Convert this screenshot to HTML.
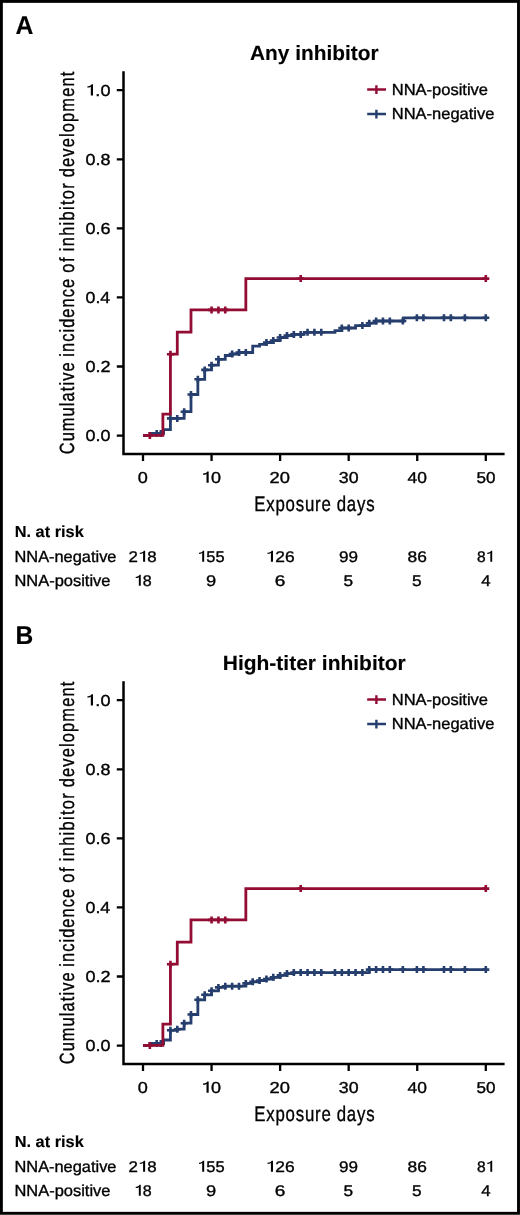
<!DOCTYPE html>
<html><head><meta charset="utf-8"><style>
html,body{margin:0;padding:0;background:#fff;}
svg{display:block;will-change:transform;}
text{font-family:"Liberation Sans",sans-serif;fill:#000;stroke:#000;stroke-width:0.35px;text-rendering:geometricPrecision;}
.ax{stroke:#000;stroke-width:2.5;fill:none;}
.tick{stroke:#000;stroke-width:2.3;fill:none;}
</style></head><body>
<svg width="520" height="1215" viewBox="0 0 520 1215">
<rect x="0" y="0" width="520" height="1215" fill="#fff"/>
<rect x="1.4" y="1.4" width="517.1" height="1211.9" fill="none" stroke="#000" stroke-width="2.9"/>
<text x="15.48" y="33.80" style="font-size:25.8px;font-weight:bold;stroke-width:0.12px;" textLength="17.89" lengthAdjust="spacingAndGlyphs">A</text>
<text x="249.98" y="59.60" style="font-size:20.7px;font-weight:bold;stroke-width:0.12px;" textLength="128.56" lengthAdjust="spacingAndGlyphs">Any inhibitor</text>
<path d="M123.5,71.2 V455.3 M122.3,454.1 H504.6" class="ax"/>
<text x="85.48" y="441.00" style="font-size:16px;" textLength="24.94" lengthAdjust="spacingAndGlyphs">0.0</text>
<text x="85.48" y="371.92" style="font-size:16px;" textLength="25.13" lengthAdjust="spacingAndGlyphs">0.2</text>
<text x="85.49" y="302.84" style="font-size:16px;" textLength="24.75" lengthAdjust="spacingAndGlyphs">0.4</text>
<text x="85.48" y="233.76" style="font-size:16px;" textLength="25.03" lengthAdjust="spacingAndGlyphs">0.6</text>
<text x="85.48" y="164.68" style="font-size:16px;" textLength="24.94" lengthAdjust="spacingAndGlyphs">0.8</text>
<path transform="translate(85.31,95.60) scale(18.065,-16.000)" d="M0.305,0 H0.425 V0.705 H0.345 C0.325,0.640 0.280,0.585 0.110,0.575 V0.500 C0.200,0.500 0.265,0.520 0.305,0.555 Z" fill="#000"/><text x="95.36" y="95.60" style="font-size:16px;" textLength="15.07" lengthAdjust="spacingAndGlyphs">.0</text>
<text x="137.68" y="482.70" style="font-size:15.8px;" textLength="10.07" lengthAdjust="spacingAndGlyphs">0</text>
<path transform="translate(201.02,482.70) scale(18.021,-15.800)" d="M0.305,0 H0.425 V0.705 H0.345 C0.325,0.640 0.280,0.585 0.110,0.575 V0.500 C0.200,0.500 0.265,0.520 0.305,0.555 Z" fill="#000"/><text x="211.04" y="482.70" style="font-size:15.8px;" textLength="10.02" lengthAdjust="spacingAndGlyphs">0</text>
<text x="269.58" y="482.70" style="font-size:15.8px;" textLength="20.39" lengthAdjust="spacingAndGlyphs">20</text>
<text x="338.79" y="482.70" style="font-size:15.8px;" textLength="19.76" lengthAdjust="spacingAndGlyphs">30</text>
<text x="407.56" y="482.70" style="font-size:15.8px;" textLength="19.37" lengthAdjust="spacingAndGlyphs">40</text>
<text x="476.52" y="482.70" style="font-size:15.8px;" textLength="19.01" lengthAdjust="spacingAndGlyphs">50</text>
<path d=" M116.8,435.60 H123.5 M116.8,366.52 H123.5 M116.8,297.44 H123.5 M116.8,228.36 H123.5 M116.8,159.28 H123.5 M116.8,90.20 H123.5 M143.00,454.0 V461.0 M211.56,454.0 V461.0 M280.12,454.0 V461.0 M348.68,454.0 V461.0 M417.24,454.0 V461.0 M485.80,454.0 V461.0" class="tick"/>
<text transform="translate(254.26,511.30) scale(0.8,1)" x="0" y="0" style="font-size:21px" textLength="95.62" lengthAdjust="spacing">Exposure</text>
<text transform="translate(336.63,511.30) scale(0.8,1)" x="0" y="0" style="font-size:21px" textLength="47.50" lengthAdjust="spacing">days</text>
<text transform="translate(74.30,454.32) rotate(-90) scale(0.8,1)" x="0" y="0" style="font-size:20.5px" textLength="114.99" lengthAdjust="spacing">Cumulative</text>
<text transform="translate(74.30,356.67) rotate(-90) scale(0.8,1)" x="0" y="0" style="font-size:20.5px" textLength="97.13" lengthAdjust="spacing">incidence</text>
<text transform="translate(74.30,272.86) rotate(-90) scale(0.8,1)" x="0" y="0" style="font-size:20.5px" textLength="19.42" lengthAdjust="spacing">of</text>
<text transform="translate(74.30,251.17) rotate(-90) scale(0.8,1)" x="0" y="0" style="font-size:20.5px" textLength="84.81" lengthAdjust="spacing">inhibitor</text>
<text transform="translate(74.30,177.26) rotate(-90) scale(0.8,1)" x="0" y="0" style="font-size:20.5px" textLength="131.95" lengthAdjust="spacing">development</text>
<path d="M367.2,89.50 H386 M376.4,85.20 V94.10" stroke="#920c33" stroke-width="2.4" fill="none"/>
<text x="391.78" y="94.60" style="font-size:16px;" textLength="96.26" lengthAdjust="spacingAndGlyphs">NNA-positive</text>
<path d="M367.2,114.00 H386 M376.4,109.70 V118.60" stroke="#263e6d" stroke-width="2.4" fill="none"/>
<text x="391.78" y="119.10" style="font-size:16px;" textLength="102.67" lengthAdjust="spacingAndGlyphs">NNA-negative</text>
<path d="M143.00,435.60 H149.86 V433.40 H163.57 V429.70 H170.42 V418.40 H184.14 V411.70 H190.99 V394.50 H197.85 V379.30 H204.70 V369.90 H211.56 V365.20 H218.42 V359.30 H225.27 V355.50 H232.13 V354.00 H238.98 V352.50 H252.70 V346.20 H259.55 V344.40 H266.41 V342.50 H273.26 V340.50 H280.12 V337.50 H286.98 V335.60 H293.83 V334.40 H304.12 V332.30 H334.97 V330.60 H341.82 V328.00 H355.54 V325.60 H369.25 V323.20 H376.10 V321.00 H403.53 V317.80 H485.80" stroke="#263e6d" stroke-width="2.8" fill="none"/>
<path d=" M153.21,433.40 H160.21 M156.71,429.90 V436.90 M157.33,433.40 H164.33 M160.83,429.90 V436.90 M166.92,418.40 H173.92 M170.42,414.90 V421.90 M173.78,418.40 H180.78 M177.28,414.90 V421.90 M180.64,411.70 H187.64 M184.14,408.20 V415.20 M187.49,394.50 H194.49 M190.99,391.00 V398.00 M194.35,379.30 H201.35 M197.85,375.80 V382.80 M201.20,369.90 H208.20 M204.70,366.40 V373.40 M208.06,365.20 H215.06 M211.56,361.70 V368.70 M214.92,359.30 H221.92 M218.42,355.80 V362.80 M228.63,354.00 H235.63 M232.13,350.50 V357.50 M235.48,352.50 H242.48 M238.98,349.00 V356.00 M242.34,352.50 H249.34 M245.84,349.00 V356.00 M262.91,342.50 H269.91 M266.41,339.00 V346.00 M269.76,340.50 H276.76 M273.26,337.00 V344.00 M276.62,337.50 H283.62 M280.12,334.00 V341.00 M283.48,335.60 H290.48 M286.98,332.10 V339.10 M290.33,334.40 H297.33 M293.83,330.90 V337.90 M297.19,334.40 H304.19 M300.69,330.90 V337.90 M304.04,332.30 H311.04 M307.54,328.80 V335.80 M310.90,332.30 H317.90 M314.40,328.80 V335.80 M317.76,332.30 H324.76 M321.26,328.80 V335.80 M338.32,328.00 H345.32 M341.82,324.50 V331.50 M345.18,328.00 H352.18 M348.68,324.50 V331.50 M358.89,325.60 H365.89 M362.39,322.10 V329.10 M365.75,323.20 H372.75 M369.25,319.70 V326.70 M372.60,321.00 H379.60 M376.10,317.50 V324.50 M379.46,321.00 H386.46 M382.96,317.50 V324.50 M386.32,321.00 H393.32 M389.82,317.50 V324.50 M399.34,321.00 H406.34 M402.84,317.50 V324.50 M413.40,317.80 H420.40 M416.90,314.30 V321.30 M419.91,317.80 H426.91 M423.41,314.30 V321.30 M440.48,317.80 H447.48 M443.98,314.30 V321.30 M447.33,317.80 H454.33 M450.83,314.30 V321.30 M461.39,317.80 H468.39 M464.89,314.30 V321.30 M482.30,317.80 H489.30 M485.80,314.30 V321.30" stroke="#263e6d" stroke-width="2.6" fill="none"/>
<path d="M143.00,435.40 H162.88 V414.20 H170.42 V354.20 H177.28 V332.20 H190.99 V309.90 H245.84 V278.60 H485.80" stroke="#920c33" stroke-width="2.8" fill="none"/>
<path d=" M146.36,435.40 H153.36 M149.86,431.90 V438.90 M166.92,354.20 H173.92 M170.42,350.70 V357.70 M208.06,309.90 H215.06 M211.56,306.40 V313.40 M214.92,309.90 H221.92 M218.42,306.40 V313.40 M221.77,309.90 H228.77 M225.27,306.40 V313.40 M297.19,278.60 H304.19 M300.69,275.10 V282.10 M482.30,278.60 H489.30 M485.80,275.10 V282.10" stroke="#920c33" stroke-width="2.6" fill="none"/>
<text x="14.74" y="536.60" style="font-size:16px;font-weight:bold;stroke-width:0.12px;" textLength="69.05" lengthAdjust="spacingAndGlyphs">N. at risk</text>
<text x="14.49" y="561.80" style="font-size:16px;" textLength="101.95" lengthAdjust="spacingAndGlyphs">NNA-negative</text>
<text x="14.48" y="585.90" style="font-size:16px;" textLength="95.96" lengthAdjust="spacingAndGlyphs">NNA-positive</text>
<text x="128.56" y="561.70" style="font-size:15.5px;" textLength="9.39" lengthAdjust="spacingAndGlyphs">2</text><path transform="translate(137.95,561.70) scale(16.889,-15.500)" d="M0.305,0 H0.425 V0.705 H0.345 C0.325,0.640 0.280,0.585 0.110,0.575 V0.500 C0.200,0.500 0.265,0.520 0.305,0.555 Z" fill="#000"/><text x="147.34" y="561.70" style="font-size:15.5px;" textLength="9.39" lengthAdjust="spacingAndGlyphs">8</text>
<path transform="translate(197.19,561.70) scale(16.436,-15.500)" d="M0.305,0 H0.425 V0.705 H0.345 C0.325,0.640 0.280,0.585 0.110,0.575 V0.500 C0.200,0.500 0.265,0.520 0.305,0.555 Z" fill="#000"/><text x="206.33" y="561.70" style="font-size:15.5px;" textLength="18.28" lengthAdjust="spacingAndGlyphs">55</text>
<path transform="translate(265.58,561.70) scale(17.417,-15.500)" d="M0.305,0 H0.425 V0.705 H0.345 C0.325,0.640 0.280,0.585 0.110,0.575 V0.500 C0.200,0.500 0.265,0.520 0.305,0.555 Z" fill="#000"/><text x="275.27" y="561.70" style="font-size:15.5px;" textLength="19.37" lengthAdjust="spacingAndGlyphs">26</text>
<text x="339.03" y="561.70" style="font-size:15.5px;" textLength="18.98" lengthAdjust="spacingAndGlyphs">99</text>
<text x="407.52" y="561.70" style="font-size:15.5px;" textLength="19.30" lengthAdjust="spacingAndGlyphs">86</text>
<text x="476.90" y="561.70" style="font-size:15.5px;" textLength="8.67" lengthAdjust="spacingAndGlyphs">8</text><path transform="translate(485.57,561.70) scale(15.596,-15.500)" d="M0.305,0 H0.425 V0.705 H0.345 C0.325,0.640 0.280,0.585 0.110,0.575 V0.500 C0.200,0.500 0.265,0.520 0.305,0.555 Z" fill="#000"/>
<path transform="translate(133.94,585.80) scale(16.042,-15.500)" d="M0.305,0 H0.425 V0.705 H0.345 C0.325,0.640 0.280,0.585 0.110,0.575 V0.500 C0.200,0.500 0.265,0.520 0.305,0.555 Z" fill="#000"/><text x="142.86" y="585.80" style="font-size:15.5px;" textLength="8.92" lengthAdjust="spacingAndGlyphs">8</text>
<text x="205.98" y="585.80" style="font-size:15.5px;" textLength="10.17" lengthAdjust="spacingAndGlyphs">9</text>
<text x="274.84" y="585.80" style="font-size:15.5px;" textLength="10.64" lengthAdjust="spacingAndGlyphs">6</text>
<text x="343.61" y="585.80" style="font-size:15.5px;" textLength="9.60" lengthAdjust="spacingAndGlyphs">5</text>
<text x="412.01" y="585.80" style="font-size:15.5px;" textLength="9.60" lengthAdjust="spacingAndGlyphs">5</text>
<text x="481.18" y="585.80" style="font-size:15.5px;" textLength="9.34" lengthAdjust="spacingAndGlyphs">4</text>
<text x="15.60" y="644.40" style="font-size:25.8px;font-weight:bold;stroke-width:0.12px;" textLength="17.76" lengthAdjust="spacingAndGlyphs">B</text>
<text x="222.74" y="669.60" style="font-size:20.7px;font-weight:bold;stroke-width:0.12px;" textLength="183.00" lengthAdjust="spacingAndGlyphs">High-titer inhibitor</text>
<path d="M123.5,681.2 V1065.3 M122.3,1064.1 H504.6" class="ax"/>
<text x="85.48" y="1051.00" style="font-size:16px;" textLength="24.94" lengthAdjust="spacingAndGlyphs">0.0</text>
<text x="85.48" y="981.92" style="font-size:16px;" textLength="25.13" lengthAdjust="spacingAndGlyphs">0.2</text>
<text x="85.49" y="912.84" style="font-size:16px;" textLength="24.75" lengthAdjust="spacingAndGlyphs">0.4</text>
<text x="85.48" y="843.76" style="font-size:16px;" textLength="25.03" lengthAdjust="spacingAndGlyphs">0.6</text>
<text x="85.48" y="774.68" style="font-size:16px;" textLength="24.94" lengthAdjust="spacingAndGlyphs">0.8</text>
<path transform="translate(85.31,705.60) scale(18.065,-16.000)" d="M0.305,0 H0.425 V0.705 H0.345 C0.325,0.640 0.280,0.585 0.110,0.575 V0.500 C0.200,0.500 0.265,0.520 0.305,0.555 Z" fill="#000"/><text x="95.36" y="705.60" style="font-size:16px;" textLength="15.07" lengthAdjust="spacingAndGlyphs">.0</text>
<text x="137.68" y="1092.70" style="font-size:15.8px;" textLength="10.07" lengthAdjust="spacingAndGlyphs">0</text>
<path transform="translate(201.02,1092.70) scale(18.021,-15.800)" d="M0.305,0 H0.425 V0.705 H0.345 C0.325,0.640 0.280,0.585 0.110,0.575 V0.500 C0.200,0.500 0.265,0.520 0.305,0.555 Z" fill="#000"/><text x="211.04" y="1092.70" style="font-size:15.8px;" textLength="10.02" lengthAdjust="spacingAndGlyphs">0</text>
<text x="269.58" y="1092.70" style="font-size:15.8px;" textLength="20.39" lengthAdjust="spacingAndGlyphs">20</text>
<text x="338.79" y="1092.70" style="font-size:15.8px;" textLength="19.76" lengthAdjust="spacingAndGlyphs">30</text>
<text x="407.56" y="1092.70" style="font-size:15.8px;" textLength="19.37" lengthAdjust="spacingAndGlyphs">40</text>
<text x="476.52" y="1092.70" style="font-size:15.8px;" textLength="19.01" lengthAdjust="spacingAndGlyphs">50</text>
<path d=" M116.8,1045.60 H123.5 M116.8,976.52 H123.5 M116.8,907.44 H123.5 M116.8,838.36 H123.5 M116.8,769.28 H123.5 M116.8,700.20 H123.5 M143.00,1064.0 V1071.0 M211.56,1064.0 V1071.0 M280.12,1064.0 V1071.0 M348.68,1064.0 V1071.0 M417.24,1064.0 V1071.0 M485.80,1064.0 V1071.0" class="tick"/>
<text transform="translate(254.26,1121.30) scale(0.8,1)" x="0" y="0" style="font-size:21px" textLength="95.62" lengthAdjust="spacing">Exposure</text>
<text transform="translate(336.63,1121.30) scale(0.8,1)" x="0" y="0" style="font-size:21px" textLength="47.50" lengthAdjust="spacing">days</text>
<text transform="translate(74.30,1064.32) rotate(-90) scale(0.8,1)" x="0" y="0" style="font-size:20.5px" textLength="114.99" lengthAdjust="spacing">Cumulative</text>
<text transform="translate(74.30,966.67) rotate(-90) scale(0.8,1)" x="0" y="0" style="font-size:20.5px" textLength="97.13" lengthAdjust="spacing">incidence</text>
<text transform="translate(74.30,882.86) rotate(-90) scale(0.8,1)" x="0" y="0" style="font-size:20.5px" textLength="19.42" lengthAdjust="spacing">of</text>
<text transform="translate(74.30,861.17) rotate(-90) scale(0.8,1)" x="0" y="0" style="font-size:20.5px" textLength="84.81" lengthAdjust="spacing">inhibitor</text>
<text transform="translate(74.30,787.26) rotate(-90) scale(0.8,1)" x="0" y="0" style="font-size:20.5px" textLength="131.95" lengthAdjust="spacing">development</text>
<path d="M367.2,699.50 H386 M376.4,695.20 V704.10" stroke="#920c33" stroke-width="2.4" fill="none"/>
<text x="391.78" y="704.60" style="font-size:16px;" textLength="96.26" lengthAdjust="spacingAndGlyphs">NNA-positive</text>
<path d="M367.2,724.00 H386 M376.4,719.70 V728.60" stroke="#263e6d" stroke-width="2.4" fill="none"/>
<text x="391.78" y="729.10" style="font-size:16px;" textLength="102.67" lengthAdjust="spacingAndGlyphs">NNA-negative</text>
<path d="M143.00,1045.60 H149.86 V1043.50 H163.57 V1040.00 H170.42 V1030.30 H177.28 V1029.20 H184.14 V1023.20 H190.99 V1014.50 H197.85 V999.80 H204.70 V994.80 H211.56 V990.80 H218.42 V987.40 H225.27 V986.20 H245.84 V983.40 H252.70 V981.80 H259.55 V980.50 H266.41 V979.00 H273.26 V977.30 H280.12 V975.40 H286.98 V973.60 H293.83 V972.60 H369.25 V969.60 H485.80" stroke="#263e6d" stroke-width="2.8" fill="none"/>
<path d=" M153.21,1043.50 H160.21 M156.71,1040.00 V1047.00 M157.33,1043.50 H164.33 M160.83,1040.00 V1047.00 M166.92,1030.30 H173.92 M170.42,1026.80 V1033.80 M173.78,1029.20 H180.78 M177.28,1025.70 V1032.70 M180.64,1023.20 H187.64 M184.14,1019.70 V1026.70 M187.49,1014.50 H194.49 M190.99,1011.00 V1018.00 M194.35,999.80 H201.35 M197.85,996.30 V1003.30 M201.20,994.80 H208.20 M204.70,991.30 V998.30 M208.06,990.80 H215.06 M211.56,987.30 V994.30 M214.92,987.40 H221.92 M218.42,983.90 V990.90 M221.77,986.20 H228.77 M225.27,982.70 V989.70 M228.63,986.20 H235.63 M232.13,982.70 V989.70 M235.48,986.20 H242.48 M238.98,982.70 V989.70 M242.34,983.40 H249.34 M245.84,979.90 V986.90 M249.20,981.80 H256.20 M252.70,978.30 V985.30 M256.05,980.50 H263.05 M259.55,977.00 V984.00 M262.91,979.00 H269.91 M266.41,975.50 V982.50 M269.76,977.30 H276.76 M273.26,973.80 V980.80 M276.62,975.40 H283.62 M280.12,971.90 V978.90 M283.48,973.60 H290.48 M286.98,970.10 V977.10 M290.33,972.60 H297.33 M293.83,969.10 V976.10 M297.19,972.60 H304.19 M300.69,969.10 V976.10 M304.04,972.60 H311.04 M307.54,969.10 V976.10 M310.90,972.60 H317.90 M314.40,969.10 V976.10 M317.76,972.60 H324.76 M321.26,969.10 V976.10 M331.47,972.60 H338.47 M334.97,969.10 V976.10 M338.32,972.60 H345.32 M341.82,969.10 V976.10 M345.18,972.60 H352.18 M348.68,969.10 V976.10 M352.04,972.60 H359.04 M355.54,969.10 V976.10 M358.89,972.60 H365.89 M362.39,969.10 V976.10 M365.75,969.60 H372.75 M369.25,966.10 V973.10 M372.60,969.60 H379.60 M376.10,966.10 V973.10 M379.46,969.60 H386.46 M382.96,966.10 V973.10 M386.32,969.60 H393.32 M389.82,966.10 V973.10 M399.34,969.60 H406.34 M402.84,966.10 V973.10 M413.40,969.60 H420.40 M416.90,966.10 V973.10 M419.91,969.60 H426.91 M423.41,966.10 V973.10 M440.48,969.60 H447.48 M443.98,966.10 V973.10 M447.33,969.60 H454.33 M450.83,966.10 V973.10 M461.39,969.60 H468.39 M464.89,966.10 V973.10 M482.30,969.60 H489.30 M485.80,966.10 V973.10" stroke="#263e6d" stroke-width="2.6" fill="none"/>
<path d="M143.00,1045.40 H162.88 V1024.20 H170.42 V964.20 H177.28 V942.20 H190.99 V919.90 H245.84 V888.60 H485.80" stroke="#920c33" stroke-width="2.8" fill="none"/>
<path d=" M146.36,1045.40 H153.36 M149.86,1041.90 V1048.90 M166.92,964.20 H173.92 M170.42,960.70 V967.70 M208.06,919.90 H215.06 M211.56,916.40 V923.40 M214.92,919.90 H221.92 M218.42,916.40 V923.40 M221.77,919.90 H228.77 M225.27,916.40 V923.40 M297.19,888.60 H304.19 M300.69,885.10 V892.10 M482.30,888.60 H489.30 M485.80,885.10 V892.10" stroke="#920c33" stroke-width="2.6" fill="none"/>
<text x="14.74" y="1146.60" style="font-size:16px;font-weight:bold;stroke-width:0.12px;" textLength="69.05" lengthAdjust="spacingAndGlyphs">N. at risk</text>
<text x="14.49" y="1171.80" style="font-size:16px;" textLength="101.95" lengthAdjust="spacingAndGlyphs">NNA-negative</text>
<text x="14.48" y="1195.90" style="font-size:16px;" textLength="95.96" lengthAdjust="spacingAndGlyphs">NNA-positive</text>
<text x="128.56" y="1171.70" style="font-size:15.5px;" textLength="9.39" lengthAdjust="spacingAndGlyphs">2</text><path transform="translate(137.95,1171.70) scale(16.889,-15.500)" d="M0.305,0 H0.425 V0.705 H0.345 C0.325,0.640 0.280,0.585 0.110,0.575 V0.500 C0.200,0.500 0.265,0.520 0.305,0.555 Z" fill="#000"/><text x="147.34" y="1171.70" style="font-size:15.5px;" textLength="9.39" lengthAdjust="spacingAndGlyphs">8</text>
<path transform="translate(197.19,1171.70) scale(16.436,-15.500)" d="M0.305,0 H0.425 V0.705 H0.345 C0.325,0.640 0.280,0.585 0.110,0.575 V0.500 C0.200,0.500 0.265,0.520 0.305,0.555 Z" fill="#000"/><text x="206.33" y="1171.70" style="font-size:15.5px;" textLength="18.28" lengthAdjust="spacingAndGlyphs">55</text>
<path transform="translate(265.58,1171.70) scale(17.417,-15.500)" d="M0.305,0 H0.425 V0.705 H0.345 C0.325,0.640 0.280,0.585 0.110,0.575 V0.500 C0.200,0.500 0.265,0.520 0.305,0.555 Z" fill="#000"/><text x="275.27" y="1171.70" style="font-size:15.5px;" textLength="19.37" lengthAdjust="spacingAndGlyphs">26</text>
<text x="339.03" y="1171.70" style="font-size:15.5px;" textLength="18.98" lengthAdjust="spacingAndGlyphs">99</text>
<text x="407.52" y="1171.70" style="font-size:15.5px;" textLength="19.30" lengthAdjust="spacingAndGlyphs">86</text>
<text x="476.90" y="1171.70" style="font-size:15.5px;" textLength="8.67" lengthAdjust="spacingAndGlyphs">8</text><path transform="translate(485.57,1171.70) scale(15.596,-15.500)" d="M0.305,0 H0.425 V0.705 H0.345 C0.325,0.640 0.280,0.585 0.110,0.575 V0.500 C0.200,0.500 0.265,0.520 0.305,0.555 Z" fill="#000"/>
<path transform="translate(133.94,1195.80) scale(16.042,-15.500)" d="M0.305,0 H0.425 V0.705 H0.345 C0.325,0.640 0.280,0.585 0.110,0.575 V0.500 C0.200,0.500 0.265,0.520 0.305,0.555 Z" fill="#000"/><text x="142.86" y="1195.80" style="font-size:15.5px;" textLength="8.92" lengthAdjust="spacingAndGlyphs">8</text>
<text x="205.98" y="1195.80" style="font-size:15.5px;" textLength="10.17" lengthAdjust="spacingAndGlyphs">9</text>
<text x="274.84" y="1195.80" style="font-size:15.5px;" textLength="10.64" lengthAdjust="spacingAndGlyphs">6</text>
<text x="343.61" y="1195.80" style="font-size:15.5px;" textLength="9.60" lengthAdjust="spacingAndGlyphs">5</text>
<text x="412.01" y="1195.80" style="font-size:15.5px;" textLength="9.60" lengthAdjust="spacingAndGlyphs">5</text>
<text x="481.18" y="1195.80" style="font-size:15.5px;" textLength="9.34" lengthAdjust="spacingAndGlyphs">4</text>
</svg>
</body></html>
